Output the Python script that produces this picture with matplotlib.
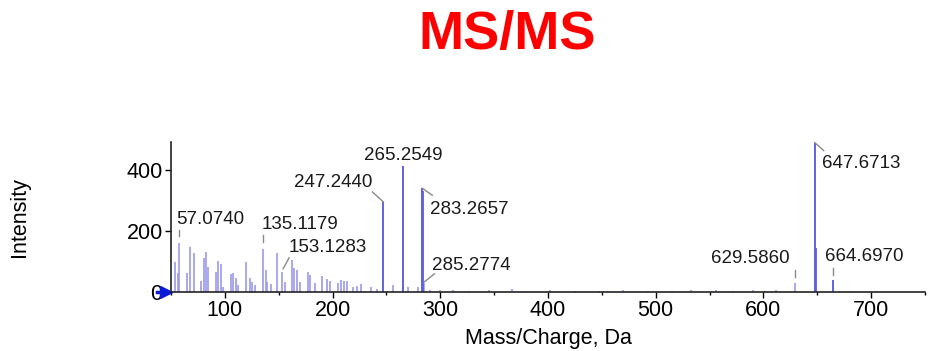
import numpy as np
import matplotlib
matplotlib.use("Agg")
import matplotlib.pyplot as plt
from matplotlib.ticker import MultipleLocator

plt.rcParams['font.family'] = ['Liberation Sans', 'DejaVu Sans']

# spectrum peaks (m/z, intensity)
mz = [54.0, 56.5, 57.07, 65.0, 67.6, 71.0, 78.0, 80.6, 82.4, 84.0, 92.0, 94.0, 96.0, 98.0,
      105.6, 108.0, 110.0, 112.0, 120.0, 123.0, 125.0, 128.0, 135.12, 138.4, 139.5, 142.6,
      148.0, 153.13, 155.5, 162.0, 164.0, 167.0, 170.0, 177.0, 179.0, 184.0, 190.0, 194.7,
      198.0, 204.6, 208.0, 211.0, 213.0, 219.4, 222.5, 226.6, 236.0, 241.0, 247.24, 256.0,
      265.25, 270.0, 279.0, 283.27, 285.28, 290.0, 300.0, 312.0, 327.0, 345.0, 367.0, 380.0,
      402.0, 425.0, 447.0, 470.0, 493.0, 515.0, 533.0, 556.0, 572.0, 590.0, 601.0, 612.0,
      629.59, 647.67, 664.70, 680.0]
intensity = [98, 62, 159, 62, 147, 126, 37, 110, 130, 82, 66, 101, 93, 17,
             58, 61, 45, 23, 99, 45, 34, 23, 139, 72, 34, 26,
             128, 66, 34, 104, 77, 72, 34, 66, 55, 30, 53, 42,
             37, 30, 39, 37, 37, 17, 20, 26, 15, 10, 294, 23,
             410, 17, 17, 339, 30, 8, 6, 5, 4, 5, 10, 4,
             5, 4, 3, 5, 4, 3, 5, 6, 4, 5, 4, 8,
             30, 488, 40, 3]

# darker strong peaks drawn on top
main_mz = [247.24, 265.25, 283.27, 283.6, 647.67, 648.4, 664.70]
main_int = [294, 410, 339, 330, 488, 143, 40]

labels = ["57.0740", "135.1179", "153.1283", "247.2440", "265.2549",
          "283.2657", "285.2774", "629.5860", "647.6713", "664.6970"]
label_mz = [57.07, 135.12, 153.13, 247.24, 265.25, 283.27, 285.28, 629.59, 647.67, 664.70]
label_int = [159, 139, 66, 294, 410, 339, 30, 30, 488, 40]

# layout of labels: text offset (px), alignment, leader line start/end (px)
text_off = [(-2, 19), (-1, 20), (7, 20), (-11, 15), (0, 6),
            (8, -26), (8, 13), (-6, 20), (7, -25), (-8, 19)]
text_ha = ['left', 'left', 'left', 'right', 'center',
           'left', 'left', 'right', 'left', 'left']
leaders = [((0, 7), (0, 13)), ((0, 7), (0, 14)), ((1, 3), (7, 14)), ((0, 0), (-11, 10)), None,
           ((0, 0), (10, -7)), ((0, 1), (10, 9)), ((0, 6), (0, 13)), ((0, 0), (9, -8)),
           ((0, 5), (0, 12))]

fig = plt.figure(figsize=(9.31, 3.51), dpi=100)
ax = fig.add_axes([171 / 931, 1 - 292 / 351, 754 / 931, 150 / 351])
ax.set_xlim(50, 750)
ax.set_ylim(0, 490)

ax.vlines(mz, 0, intensity, color='#9a9aea', lw=1.2)
ax.vlines(main_mz, 0, main_int, color='#5e5edc', lw=1.3)

for i, lab in enumerate(labels):
    ax.annotate(lab, xy=(label_mz[i], label_int[i]), xytext=text_off[i],
                textcoords='offset pixels', ha=text_ha[i], va='baseline',
                fontsize=13.5, color='#1a1a1a')
    if leaders[i] is not None:
        (x0, y0), (x1, y1) = leaders[i]
        p0 = ax.transData.transform((label_mz[i], label_int[i]))
        seg = ax.transData.inverted().transform([p0 + [x0, y0], p0 + [x1, y1]])
        ax.plot(seg[:, 0], seg[:, 1], color='#8a8a8a', lw=1.0, clip_on=False)

ax.set_xticks([100, 200, 300, 400, 500, 600, 700])
ax.xaxis.set_minor_locator(MultipleLocator(50))
ax.set_yticks([0, 200, 400])
ax.tick_params(axis='both', which='major', labelsize=15.5, length=4, width=1, pad=2)
ax.tick_params(axis='x', which='minor', length=2, width=1)
for s in ['top', 'right']:
    ax.spines[s].set_visible(False)
for s in ['left', 'bottom']:
    ax.spines[s].set_color('#222222')
    ax.spines[s].set_linewidth(1.2)

ax.set_xlabel("Mass/Charge, Da", fontsize=15.5)
ax.xaxis.set_label_coords(0.5, -0.24)
ax.set_ylabel("Intensity", fontsize=15.5)
ax.yaxis.set_label_coords(-0.187, 0.5)

# blue marker at the origin
ax.plot([-0.018, -0.008], [0, 0], color='#0a1adb', lw=2.5, transform=ax.transAxes, clip_on=False)
ax.plot([-0.007], [0], marker='>', ms=9, color='#0a1adb', transform=ax.transAxes, clip_on=False)

fig.text(0.545, 1 - 35 / 351, "MS/MS", color='#ff0000', fontsize=39, fontweight='bold',
         ha='center', va='center')

fig.savefig("out.png", dpi=100)
